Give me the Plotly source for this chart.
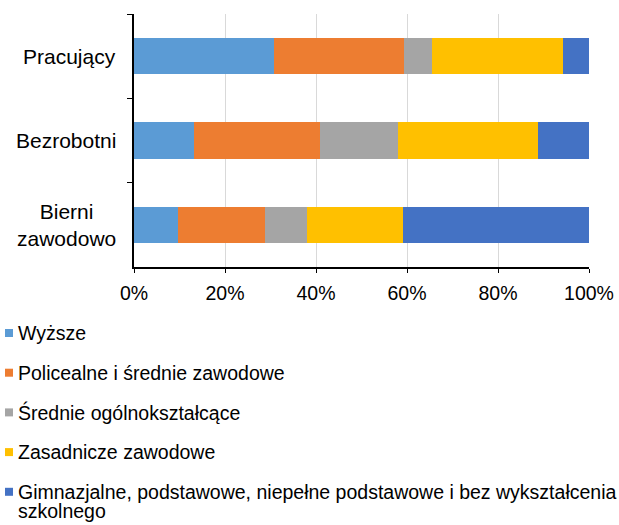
import plotly.graph_objects as go

# kategorie (osa y) a popisky
kategorie = ["Pracujący", "Bezrobotni", "Bierni zawodowo"]
popisky_kategorii = ["Pracujący", "Bezrobotni", "Bierni<br>zawodowo"]

# podíly vzdělání v %
wyzsze = [30.7, 13.2, 9.7]
policealne = [28.6, 27.7, 19.1]
srednie_ogolne = [6.1, 17.2, 9.3]
zasadnicze = [28.8, 30.6, 21.0]
gimnazjalne = [5.8, 11.3, 40.9]

nazvy_serii = [
    "Wyższe",
    "Policealne i średnie zawodowe",
    "Średnie ogólnokształcące",
    "Zasadnicze zawodowe",
    "Gimnazjalne, podstawowe, niepełne podstawowe i bez wykształcenia<br>szkolnego",
]
barvy = ["#5B9BD5", "#ED7D31", "#A5A5A5", "#FFC000", "#4472C4"]
serie = [wyzsze, policealne, srednie_ogolne, zasadnicze, gimnazjalne]

x_ticks = [0, 20, 40, 60, 80, 100]
x_tick_labels = ["0%", "20%", "40%", "60%", "80%", "100%"]

FONT = "Liberation Sans, Arial, sans-serif"

W, H = 619, 525
ML, MR, MT, MB = 134, 30, 14, 258
PW, PH = W - ML - MR, H - MT - MB


def px_x(px):
    """pixel zleva -> souřadnice paper"""
    return (px - ML) / PW


def px_y(py):
    """pixel shora -> souřadnice paper"""
    return (H - MB - py) / PH


fig = go.Figure()
for name, vals, color in zip(nazvy_serii, serie, barvy):
    fig.add_trace(go.Bar(
        y=kategorie, x=vals, orientation="h", name=name.replace("<br>", " "),
        marker=dict(color=color, line=dict(width=0)),
        showlegend=False,
    ))

# popisky kategorií (vycentrované víceřádkové)
for y, label in zip(kategorie, popisky_kategorii):
    fig.add_annotation(
        x=0, xref="paper", y=y, yref="y", text=label, showarrow=False,
        xanchor="right", xshift=-16, align="center",
        font=dict(family=FONT, size=21, color="#000000"),
    )

# legenda pod grafem (ve stylu Excelu: malý čtvereček těsně u textu)
legend_top = 333
legend_step = 39.7
line_step = 19.5  # řádkování zalomeného textu
for i, (name, color) in enumerate(zip(nazvy_serii, barvy)):
    cy = legend_top + i * legend_step
    fig.add_shape(
        type="rect", xref="paper", yref="paper",
        x0=px_x(5), x1=px_x(13), y0=px_y(cy - 4), y1=px_y(cy + 4),
        fillcolor=color, line=dict(width=0),
    )
    for j, line in enumerate(name.split("<br>")):
        fig.add_annotation(
            x=px_x(16), xref="paper", y=px_y(cy + j * line_step), yref="paper",
            text=line, showarrow=False, xanchor="left", yanchor="middle",
            font=dict(family=FONT, size=19.5, color="#000000"),
        )

fig.update_layout(
    width=W, height=H,
    margin=dict(l=ML, r=MR, t=MT, b=MB, autoexpand=False),
    barmode="stack", bargap=0.57,
    plot_bgcolor="white", paper_bgcolor="white",
    font=dict(family=FONT, size=19.5, color="#000000"),
    xaxis=dict(
        range=[0, 100], tickvals=x_ticks, ticktext=x_tick_labels,
        showgrid=True, gridcolor="#D9D9D9", gridwidth=1,
        showline=True, linecolor="#000000", linewidth=2,
        ticks="outside", ticklen=4, tickcolor="#000000",
        ticklabelstandoff=4,
        zeroline=False, fixedrange=True, automargin=False,
    ),
    yaxis=dict(
        autorange="reversed", showticklabels=False,
        tickson="boundaries", ticks="outside", ticklen=5, tickcolor="#000000",
        showline=True, linecolor="#000000", linewidth=2,
        showgrid=False, zeroline=False, automargin=False,
    ),
    showlegend=False,
)

# bez výchozího okraje stránky, aby graf seděl od levého horního rohu
fig.write_html(
    "out.html",
    config={"displayModeBar": False},
    post_script="document.body.style.margin = '0';",
)
